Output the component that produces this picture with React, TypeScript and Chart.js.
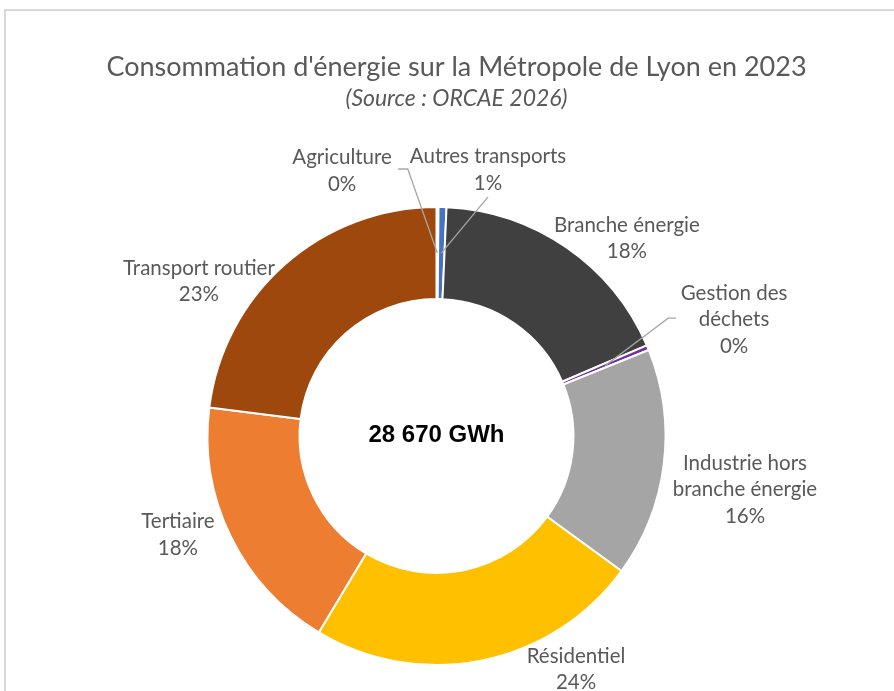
import React, { useEffect, useRef } from "react";
import { Chart, registerables } from "chart.js";

Chart.register(...registerables);

// ---------- data ----------
const categories = [
  "Agriculture",
  "Autres transports",
  "Branche énergie",
  "Gestion des déchets",
  "Industrie hors branche énergie",
  "Résidentiel",
  "Tertiaire",
  "Transport routier",
];
const labelLines = [
  ["Agriculture"],
  ["Autres transports"],
  ["Branche énergie"],
  ["Gestion des", "déchets"],
  ["Industrie hors", "branche énergie"],
  ["Résidentiel"],
  ["Tertiaire"],
  ["Transport routier"],
];
const consumptionGWh = [40, 160, 5110, 100, 4635, 6754, 5272, 6599];
const sliceColors = ["#70AD47", "#4472C4", "#404040", "#7030A0", "#A5A5A5", "#FFC000", "#ED7D31", "#9E480E"];
const titleText = "Consommation d'énergie sur la Métropole de Lyon en 2023";
const subtitleText = "(Source : ORCAE 2026)";
const unitText = "GWh";

// ---------- label layout (in units of the outer radius, relative to the centre) ----------
const labelOffsets = [
  [-0.414, -1.162],
  [0.226, -1.167],
  [0.835, -0.866],
  [1.305, -0.51],
  [1.353, 0.235],
  [0.612, 1.024],
  [-1.134, 0.434],
  [-1.042, -0.678],
];
const leaderPaths: (number[][] | null)[] = [
  [[0.246, -0.009], [0.288, -0.009]],
  [[0, 0.118]],
  null,
  [[-0.254, -0.007], [-0.289, -0.007]],
  null,
  null,
  null,
  null,
];

const FONT = "Lato, 'Noto Sans', sans-serif";
const TEXT_COLOR = "#595959";

const total = consumptionGWh.reduce((a, b) => a + b, 0);
const formatThousands = (n: number) => String(Math.round(n)).replace(/\B(?=(\d{3})+(?!\d))/g, " ");

const decorPlugin = {
  id: "decor",
  beforeDraw(chart: any) {
    const ctx = chart.ctx;
    ctx.save();
    ctx.fillStyle = "#ffffff";
    ctx.fillRect(0, 0, chart.width, chart.height);
    ctx.strokeStyle = "#D9D9D9";
    ctx.lineWidth = 2;
    ctx.strokeRect(5, 10, 2000, 2000);
    ctx.restore();
  },
  afterDraw(chart: any) {
    const ctx = chart.ctx;
    ctx.save();
    // titles
    ctx.fillStyle = TEXT_COLOR;
    ctx.textAlign = "center";
    ctx.textBaseline = "alphabetic";
    ctx.font = `27px ${FONT}`;
    ctx.fillText(titleText, 456.5, 76);
    ctx.font = `italic 23px ${FONT}`;
    ctx.fillText(subtitleText, 456.5, 106);

    const meta = chart.getDatasetMeta(0);
    meta.data.forEach((el: any, i: number) => {
      const { x, y, startAngle, endAngle, innerRadius, outerRadius } = el.getProps(
        ["x", "y", "startAngle", "endAngle", "innerRadius", "outerRadius"],
        true
      );
      const R = outerRadius - 1;
      const [ox, oy] = labelOffsets[i];
      const lx = x + ox * R;
      const ly = y + oy * R;
      const path = leaderPaths[i];
      if (path) {
        const mid = (startAngle + endAngle) / 2;
        const rm = (innerRadius + outerRadius) / 2;
        ctx.beginPath();
        ctx.strokeStyle = "#A6A6A6";
        ctx.lineWidth = 1.3;
        path.forEach(([px, py], k) => {
          const X = lx + px * R;
          const Y = ly + py * R;
          if (k === 0) ctx.moveTo(X, Y);
          else ctx.lineTo(X, Y);
        });
        ctx.lineTo(x + Math.cos(mid) * rm, y + Math.sin(mid) * rm);
        ctx.stroke();
      }
      const pct = Math.round((consumptionGWh[i] / total) * 100) + "%";
      const lines = [...labelLines[i], pct];
      const lh = 26.5;
      ctx.fillStyle = TEXT_COLOR;
      ctx.font = `20.5px ${FONT}`;
      ctx.textAlign = "center";
      ctx.textBaseline = "middle";
      lines.forEach((t, k) => {
        ctx.fillText(t, lx, ly + (k - (lines.length - 1) / 2) * lh);
      });
    });

    // centre total
    const first = meta.data[0];
    if (first) {
      ctx.fillStyle = "#000000";
      ctx.font = `bold 24px 'Liberation Sans', Arial, sans-serif`;
      ctx.textAlign = "center";
      ctx.textBaseline = "middle";
      ctx.fillText(`${formatThousands(total)} ${unitText}`, first.x, first.y - 1);
    }
    ctx.restore();
  },
};

export default function App() {
  const canvasRef = useRef<HTMLCanvasElement | null>(null);

  useEffect(() => {
    document.body.style.margin = "0";
    const canvas = canvasRef.current;
    if (!canvas) return;
    const chart = new Chart(canvas, {
      type: "doughnut",
      data: {
        labels: categories,
        datasets: [
          {
            data: consumptionGWh,
            backgroundColor: sliceColors,
            borderColor: "#ffffff",
            borderWidth: 2,
            hoverBorderWidth: 2,
            hoverOffset: 0,
          },
        ],
      },
      options: {
        responsive: false,
        maintainAspectRatio: false,
        animation: false,
        cutout: "59.8%",
        rotation: 0,
        layout: { padding: { left: 206.5, right: 227.5, top: 206, bottom: 25 } },
        plugins: {
          legend: { display: false },
          tooltip: { enabled: false },
          title: { display: false },
        },
      },
      plugins: [decorPlugin],
    });
    return () => chart.destroy();
  }, []);

  return (
    <div style={{ width: 894, height: 691, background: "#fff" }}>
      <canvas ref={canvasRef} width={894} height={691} style={{ display: "block", width: 894, height: 691 }} />
    </div>
  );
}
